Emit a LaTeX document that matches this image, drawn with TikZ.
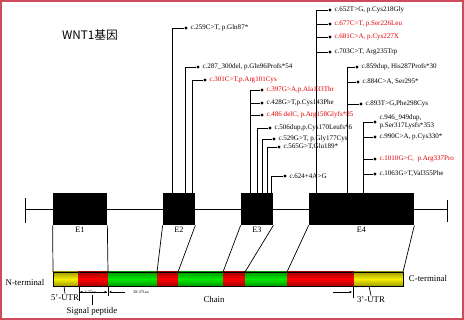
\documentclass[tikz,border=0pt]{standalone}
\usepackage{fontspec}
\setmainfont{Liberation Serif}
\newfontfamily\cjk{Noto Sans CJK SC}
\usetikzlibrary{arrows.meta}
\usetikzlibrary{positioning}
\usetikzlibrary{calc}
\definecolor{framered}{RGB}{205,75,90}
\definecolor{mutred}{RGB}{225,0,0}
\definecolor{barred}{RGB}{255,0,0}
\definecolor{bargreen}{RGB}{0,235,0}
\definecolor{baryellow}{RGB}{245,240,0}

\begin{document}
\begin{tikzpicture}[x=0.03cm, y=-0.03cm, line width=0.6pt,
    exon/.style={fill=black, inner sep=0pt, minimum height=0.96cm},
    dot/.style={circle, fill=black, inner sep=0pt, minimum size=2.6pt},
    mut/.style={font=\fontsize{6}{6.5}\selectfont, inner sep=0.5pt, align=left},
    redmut/.style={mut, text=mutred},
    lab/.style={font=\fontsize{7.5}{9}\selectfont, inner sep=1pt},
    tinylab/.style={font=\fontsize{3.5}{4}\selectfont, inner sep=0.5pt},
    tip/.style={-{Latex[length=2pt,width=2pt]}}]
          \useasboundingbox (0,0) rectangle (464,320);
          \draw [framered, line width=1.3pt] (0.8,0.8) rectangle (463.2,319.2);
          \node [font=\cjk\fontsize{10}{12}\selectfont] (title) at (90,35) {WNT1基因};

          \coordinate (g0) at (25,209);
          \coordinate (g1) at (447,209);
          \draw (g0) -- (g1);
          \draw ($(g0)+(0,-11)$) -- ($(g0)+(0,14)$);
          \draw ($(g1)+(0,-9)$) -- ($(g1)+(0,13)$);

          \node [exon, minimum width=1.62cm] (E1) at (80,209) {};
          \node [exon, minimum width=0.96cm] (E2) at (179,209) {};
          \node [exon, minimum width=0.96cm] (E3) at (257,209) {};
          \node [exon, minimum width=3.15cm] (E4) at (361.5,209) {};
          \foreach \e in {E1,E2,E3,E4}
            \node [lab, font=\fontsize{7}{8}\selectfont, below=0.5pt of \e] (l\e) {\e};

          \foreach \a/\b/\c in {53/78/baryellow, 78/108/barred, 108/157/bargreen,
                                157/178/barred, 178/223/bargreen, 223/245/barred,
                                245/287/bargreen, 287/354/barred, 354/403/baryellow}
            \shade [top color=\c!65!black, bottom color=\c!65!black, middle color=\c] (\a,272) rectangle (\b,286);
          \draw (53,272) rectangle (403,286);

          \foreach \n/\x in {1/53, 2/108, 3/157, 4/178, 5/223, 6/245, 7/287, 8/403}
            \coordinate (p\n) at (\x,272);
          \draw (E1.south west) -- (p1) (E1.south east) -- (p2);
          \draw (E2.south west) -- (p3) (E2.south east) -- (p4);
          \draw (E3.south west) -- (p5) (E3.south east) -- (p6);
          \draw (E4.south west) -- (p7) (E4.south east) -- (p8);

          \foreach \n/\e/\s/\y/\d/\st/\t in {
              a/E2/10/28/186/mut/{c.259C>T,\ p.Gln87*},
              b/E2/23/67/198/mut/{c.287\_300del,\ p.Gln96Profs*54},
              c/E2/30/80/205/redmut/{c.301C>T,p.Arg101Cys},
              d/E3/10/90/262/redmut/{c.397G>A,p.Ala133Thr},
              e/E3/10/103/262/mut/{c.428G>T,p.Cys143Phe},
              f/E3/10/115/262/redmut/{c.486 delC, p.Arg158Glyfs*85},
              g/E3/17/128/270/mut/{c.506dup,p.Cys170Leufs*6},
              h/E3/22/139/274/mut/{c.529G>T, p.Gly177Cys},
              i/E3/27/147/279/mut/{c.565G>T,Glu189*},
              j/E3/31/176/285/mut/{c.624+4A>G},
              k/E4/8/10/330/mut/{c.652T>G, p.Cys218Gly},
              l/E4/8/24/330/redmut/{c.677C>T, p.Ser226Leu},
              m/E4/8/37/330/redmut/{c.681C>A,\ p.Cys227X},
              n/E4/8/52/330/mut/{c.703C>T, Arg235Trp},
              o/E4/39/67/357/mut/{c.859dup,\ His287Profs*30},
              p/E4/39/82/358/mut/{c.884C>A, Ser295*},
              q/E4/39/104/361/mut/{c.893T>G,Phe298Cys},
              r/E4/55/122/375/mut/{c.946\_949dup,\\p.Ser317Lysfs*353},
              s/E4/55/137/375/mut/{c.990C>A,\ p.Cys330*},
              t/E4/55/159/375/redmut/{c.1010G>C,\ \ p.Arg337Pro},
              u/E4/55/174/375/mut/{c.1063G>T,Val355Phe}}
          {
            \node [dot] (m\n) at (\d,\y) {};
            \node [\st, right=1.5pt of m\n] (t\n) {\t};
            \draw ($(\e.north west)+(\s,0)$) |- (m\n);
          }

          \node [lab] (nterm) at (25,282) {N-terminal};
          \node [lab] (cterm) at (428,278) {C-terminal};
          \node [lab] (utr5) at (65,298) {5'-UTR};
          \node [lab] (signal) at (92,311) {Signal peptide};
          \node [lab] (chain) at (214,299) {Chain};
          \node [lab] (utr3) at (371,300) {3'-UTR};

          \coordinate (u5) at (64,286);
          \coordinate (sp) at (92,295);
          \coordinate (u3) at (369,286);
          \draw (u5) -- (utr5.north);
          \draw (sp) -- (signal.north);
          \draw (u3) -- (utr3.north);

          \foreach \n/\x/\h in {1/79/301, 2/108/296, 3/353/298} {
            \coordinate (k\n) at (\x,286);
            \coordinate (kk\n) at (\x,\h);
            \draw (k\n) -- (kk\n);
          }

          \coordinate (a1) at (80,292);
          \coordinate (a2) at (107,292);
          \coordinate (a3) at (109,292);
          \coordinate (a4) at (125,292);
          \coordinate (a5) at (333,292);
          \coordinate (a6) at (352,292);
          \draw [tip] (a2) -- (a1);
          \node [tinylab, fill=white] (aa1) at (90,292) {1-27aa};
          \draw [tip] (a1) -- (a2);
          \draw [tip] (a4) -- (a3);
          \node [tinylab] (aa2) at (141,292) {28-371aa};
          \draw [tip] (a5) -- (a6);
        \end{tikzpicture}
\end{document}
